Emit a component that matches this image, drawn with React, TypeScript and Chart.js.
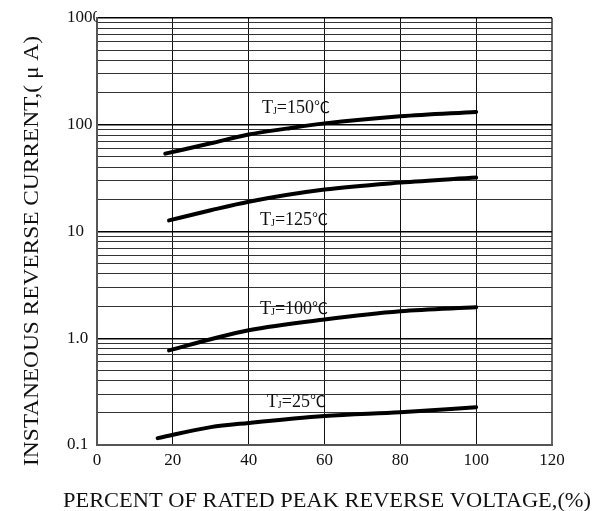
import { useEffect, useRef } from "react";
import { Chart, registerables } from "chart.js";

Chart.register(...registerables);

// ---- data ----
const xTickValues = [0, 20, 40, 60, 80, 100, 120];
const yDecades = [0.1, 1, 10, 100, 1000];
const yTickLabels = ["0.1", "1.0", "10", "100", "1000"];

const seriesTemps = ["150", "125", "100", "25"];

const s150x = [18, 30, 40, 50, 60, 80, 100];
const s150y = [53.6, 67, 81, 92, 103, 120, 132];

const s125x = [19, 30, 40, 60, 80, 100];
const s125y = [12.7, 15.8, 19, 24.7, 28.7, 32];

const s100x = [19, 30, 40, 60, 80, 100];
const s100y = [0.77, 0.98, 1.19, 1.5, 1.79, 1.95];

const s25x = [16, 30, 40, 60, 80, 100];
const s25y = [0.116, 0.147, 0.161, 0.187, 0.203, 0.226];

// label anchors (data coordinates: x, y) for each series label
const labelAnchorX = [43.5, 43, 43, 44.8];
const labelAnchorY = [129, 11.4, 1.67, 0.226];

const xTitle = "PERCENT OF RATED PEAK REVERSE VOLTAGE,(%)";
const yTitle = "INSTANEOUS REVERSE CURRENT,( \u03bc A)";

const FONT = "'Liberation Serif', 'Times New Roman', 'DejaVu Serif', serif";

function buildYTicks() {
  const out: { value: number; major: boolean }[] = [];
  for (let i = 0; i < yDecades.length; i++) {
    const d = yDecades[i];
    out.push({ value: d, major: true });
    if (i < yDecades.length - 1) {
      for (let m = 2; m <= 9; m++) out.push({ value: +(d * m).toPrecision(6), major: false });
    }
  }
  return out;
}

function pts(xs: number[], ys: number[]) {
  return xs.map((x, i) => ({ x, y: ys[i] }));
}

function fitText(ctx: CanvasRenderingContext2D, text: string, targetWidth: number) {
  const w = ctx.measureText(text).width;
  const s = targetWidth / w;
  ctx.scale(s, 1);
  ctx.fillText(text, 0, 0);
}

export default function App() {
  const ref = useRef<HTMLCanvasElement | null>(null);

  useEffect(() => {
    if (!ref.current) return;
    const yTicks = buildYTicks();

    const textPlugin = {
      id: "texts",
      afterDraw(chart: any) {
        const ctx = chart.ctx as CanvasRenderingContext2D;
        const xs = chart.scales.x;
        const ys = chart.scales.y;
        ctx.save();
        ctx.fillStyle = "#111";
        // x title
        ctx.font = `20px ${FONT}`;
        ctx.textAlign = "center";
        ctx.textBaseline = "alphabetic";
        ctx.save();
        ctx.translate(327, 507);
        fitText(ctx, xTitle, 528);
        ctx.restore();
        // y title
        ctx.save();
        ctx.translate(38, 251);
        ctx.rotate(-Math.PI / 2);
        fitText(ctx, yTitle, 430);
        ctx.restore();
        // series labels
        ctx.textAlign = "left";
        for (let i = 0; i < seriesTemps.length; i++) {
          let px = xs.getPixelForValue(labelAnchorX[i]);
          const py = ys.getPixelForValue(labelAnchorY[i]);
          ctx.font = `18px ${FONT}`;
          ctx.fillText("T", px, py);
          px += ctx.measureText("T").width;
          ctx.font = `10px ${FONT}`;
          ctx.fillText("J", px, py + 1);
          px += ctx.measureText("J").width;
          ctx.font = `18px ${FONT}`;
          ctx.fillText("=" + seriesTemps[i], px, py);
          px += ctx.measureText("=" + seriesTemps[i]).width;
          ctx.font = `16px 'Noto Sans CJK SC', ${FONT}`;
          ctx.fillText("\u2103", px, py);
        }
        ctx.restore();
      },
    };

    const lineDs = (xs: number[], ys: number[]) => ({
      data: pts(xs, ys),
      borderColor: "#000",
      borderWidth: 4,
      pointRadius: 0,
      fill: false,
      cubicInterpolationMode: "monotone" as const,
      borderCapStyle: "round" as const,
    });

    const chart = new Chart(ref.current, {
      type: "line",
      data: {
        datasets: [
          lineDs(s150x, s150y),
          lineDs(s125x, s125y),
          lineDs(s100x, s100y),
          lineDs(s25x, s25y),
        ],
      },
      options: {
        animation: false,
        responsive: true,
        maintainAspectRatio: false,
        layout: { padding: { left: 67, top: 18, right: 43, bottom: 0 } },
        plugins: { legend: { display: false }, tooltip: { enabled: false }, title: { display: false } },
        scales: {
          x: {
            type: "linear",
            min: 0,
            max: 120,
            afterBuildTicks: (axis: any) => {
              axis.ticks = xTickValues.map((v) => ({ value: v }));
            },
            afterFit: (axis: any) => {
              axis.height = 66;
            },
            ticks: {
              autoSkip: false,
              maxRotation: 0,
              padding: 5,
              color: "#111",
              font: { family: FONT, size: 17 },
              callback: (v: any) => String(v),
            },
            grid: {
              drawTicks: false,
              color: (c: any) => (c.tick && (c.tick.value === 0 || c.tick.value === 120) ? "#666" : "#111"),
              lineWidth: (c: any) => (c.tick && (c.tick.value === 0 || c.tick.value === 120) ? 2 : 1),
            },
            border: { display: true, color: "#555", width: 2 },
          },
          y: {
            type: "logarithmic",
            min: 0.1,
            max: 1000,
            afterBuildTicks: (axis: any) => {
              axis.ticks = yTicks.map((t) => ({ value: t.value, major: t.major }));
            },
            afterFit: (axis: any) => {
              axis.width = 30;
            },
            ticks: {
              autoSkip: false,
              padding: 0,
              crossAlign: "far",
              color: "#111",
              font: { family: FONT, size: 17 },
              callback: (v: any) => {
                const idx = yDecades.findIndex((d) => Math.abs(d - Number(v)) < 1e-9);
                return idx >= 0 ? yTickLabels[idx] : "";
              },
            },
            grid: {
              drawTicks: false,
              color: (c: any) => (c.tick && c.tick.major ? "#000" : "#333"),
              lineWidth: (c: any) => (c.tick && c.tick.major ? 1.5 : 1),
            },
            border: { display: true, color: "#555", width: 2 },
          },
        },
      },
      plugins: [textPlugin],
    });

    return () => chart.destroy();
  }, []);

  return (
    <div style={{ position: "fixed", left: 0, top: 0, width: 595, height: 511, background: "#fff" }}>
      <canvas ref={ref} />
    </div>
  );
}
